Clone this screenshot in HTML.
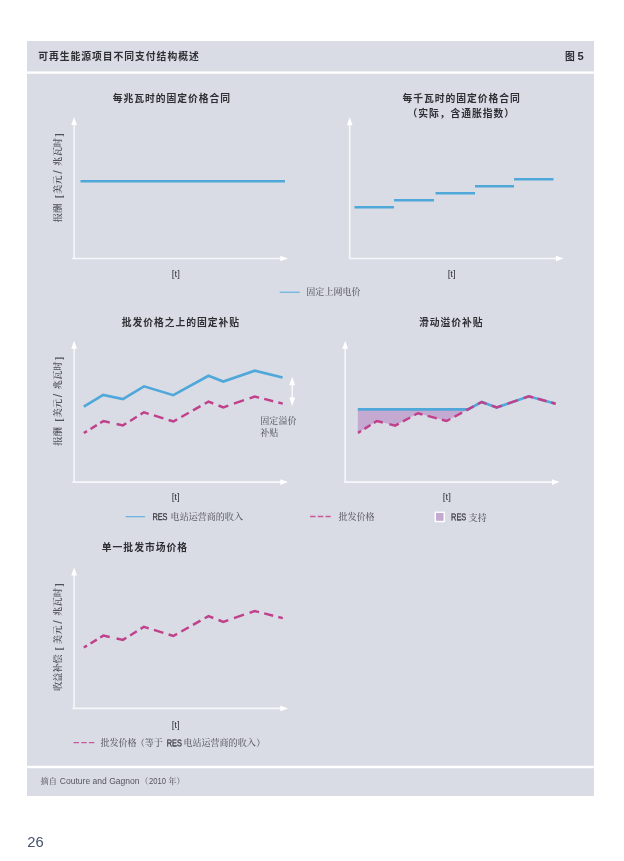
<!DOCTYPE html>
<html lang="zh-CN">
<head>
<meta charset="utf-8">
<title>可再生能源项目不同支付结构概述</title>
<style>
html,body{margin:0;padding:0;background:#fff;}
body{width:624px;height:861px;overflow:hidden;position:relative;}
svg{position:absolute;left:0;top:0;display:block;}
.sb{font-family:"Liberation Sans","Noto Sans CJK SC",sans-serif;font-weight:bold;font-size:9.8px;letter-spacing:0.96px;fill:#2e2e33;}
.sr{font-family:"Liberation Serif","Noto Serif CJK SC",serif;font-size:9.05px;font-weight:500;fill:#5c5c63;}
.yl{font-family:"Liberation Serif","Noto Serif CJK SC",serif;font-size:9.33px;font-weight:600;fill:#505058;}
.br{font-size:10.6px;}
.sl{font-family:"Liberation Sans",sans-serif;font-size:13px;font-weight:normal;}
.la{font-family:"Liberation Sans","Noto Sans CJK SC",sans-serif;font-size:9.6px;fill:#36363c;}
.res{font-family:"Liberation Sans",sans-serif;font-size:9.75px;fill:#3a3a40;stroke:#3a3a40;stroke-width:0.3px;}
.ax{stroke:#f6f7fa;stroke-width:1.6;fill:none;}
.ah{fill:#fff;stroke:none;}
.bl{stroke:#4fa7da;stroke-width:2.6;fill:none;stroke-linejoin:miter;}
.pk{stroke:#c0408c;stroke-width:2.45;fill:none;stroke-linejoin:miter;}
</style>
</head>
<body>
<svg width="624" height="861" viewBox="0 0 624 861">
<!-- panel -->
<rect x="27" y="41" width="567" height="755" fill="#d9dce4"/>
<rect x="27" y="71.4" width="567" height="2.4" fill="#fff"/>
<rect x="27" y="765.8" width="567" height="2.4" fill="#fff"/>

<!-- header -->
<text class="sb" x="38.3" y="59.65">可再生能源项目不同支付结构概述</text>
<text class="sb" x="564.9" y="59.65">图 <tspan x="577.6" y="59.9" style="font-size:11.2px;letter-spacing:0">5</tspan></text>

<!-- chart 1 -->
<g id="c1">
<text class="sb" x="171.9" y="102" text-anchor="middle">每兆瓦时的固定价格合同</text>
<path class="ax" d="M74.1 124V258.5M72.2 258.5H281"/><path class="ah" d="M74.1 117l2.9 8h-5.8zM288 258.5l-7.7 2.8v-5.6z"/>
<text class="yl" transform="translate(61.0 222.3) rotate(-90)"><tspan x="0" y="0">报酬</tspan> <tspan x="24.00" y="0.7" class="br">[</tspan> <tspan x="28.20" y="0">美元</tspan> <tspan x="48.60" y="1.2" class="sl">/</tspan> <tspan x="56.40" y="0">兆瓦时</tspan> <tspan x="85.60" y="0.7" class="br">]</tspan></text>
<path class="bl" d="M80.5 181.2H285"/>
<text class="la" x="175.8" y="276.6" text-anchor="middle">[t]</text>
</g>

<!-- chart 2 -->
<g id="c2">
<text class="sb" x="461.6" y="102" text-anchor="middle">每千瓦时的固定价格合同</text>
<text class="sb" x="461.2" y="117.3" text-anchor="middle">（实际，含通胀指数）</text>
<path class="ax" d="M349.7 124.3V258.5M348.9 258.5H556.6"/><path class="ah" d="M349.7 117.3l2.9 8h-5.8zM563.6 258.5l-7.7 2.8v-5.6z"/>
<path class="bl" d="M354.5 207.3H394M394 200.2H434M435.5 193.3H475M475 186.3H514M514 179.3H553.5"/>
<text class="la" x="451.7" y="276.6" text-anchor="middle">[t]</text>
</g>

<!-- legend row 1 -->
<path d="M279.7 292.2H299.7" stroke="#5aaede" stroke-width="1.1" fill="none"/>
<text class="sr" x="306.3" y="295.3">固定上网电价</text>

<!-- chart 3 -->
<g id="c3">
<text class="sb" x="180.8" y="326" text-anchor="middle">批发价格之上的固定补贴</text>
<path class="ax" d="M74.1 347.7V482.1M72.4 482.1H281"/><path class="ah" d="M74.1 340.7l2.9 8h-5.8zM288 482.1l-7.7 2.8v-5.6z"/>
<text class="yl" transform="translate(61.0 445.8) rotate(-90)"><tspan x="0" y="0">报酬</tspan> <tspan x="24.00" y="0.7" class="br">[</tspan> <tspan x="28.20" y="0">美元</tspan> <tspan x="48.60" y="1.2" class="sl">/</tspan> <tspan x="56.40" y="0">兆瓦时</tspan> <tspan x="85.60" y="0.7" class="br">]</tspan></text>
<path class="bl" d="M83.8 406.7L103.2 394.9L122.9 399.0L144.0 386.3L173.3 395.2L208.5 375.8L223.3 381.5L254.8 370.7L282.5 377.5"/>
<path class="pk" d="M83.8 433.0L87.0 431.1M90.5 429.0L96.8 425.1M100.2 423.0L103.4 421.1L109.7 422.5M116.6 424.0L122.9 425.4L126.3 423.3M130.1 421.0L136.8 416.7M140.6 414.4L144.0 412.3L148.7 413.8M153.9 415.4L163.4 418.4M168.6 420.0L173.3 421.5L177.1 419.4M181.3 417.0L188.8 412.7M193.0 410.4L200.5 406.1M204.7 403.7L208.5 401.6L213.3 403.5M218.5 405.5L223.3 407.4L228.3 405.6M233.9 403.7L244.0 400.2M249.6 398.3L254.6 396.5L259.1 397.6M264.2 398.9L273.2 401.2M278.3 402.5L282.8 403.6"/>
<path d="M292.2 384V399" stroke="#fff" stroke-width="1.2" fill="none"/>
<path class="ah" d="M292.2 376.7l2.9 8.6h-5.8zM292.2 406.1l2.9 -8.6h-5.8z"/>
<text class="sr" x="260.3" y="424.4">固定溢价</text>
<text class="sr" x="260.3" y="436">补贴</text>
<text class="la" x="175.7" y="500.4" text-anchor="middle">[t]</text>
</g>

<!-- chart 4 -->
<g id="c4">
<text class="sb" x="451.3" y="326" text-anchor="middle">滑动溢价补贴</text>
<path d="M357.8 409.4L468.0 409.4L446.5 421.0L417.9 413.3L395.2 425.6L376.9 421.0L357.8 433.2Z" fill="#c4a9d1"/>
<path class="ax" d="M345.2 347.7V482.1M343.9 482.1H552.6"/><path class="ah" d="M345.2 340.7l2.9 8h-5.8zM559.6 482.1l-7.7 2.8v-5.6z"/>
<path class="bl" d="M357.8 409.4L468.0 409.4L481.7 402.0L496.7 407.5L528.8 396.3L555.6 403.7"/>
<path class="pk" d="M358.0 432.9L361.0 431.0M364.4 428.9L370.5 425.0M373.9 422.9L376.9 421.0L382.8 422.5M389.3 424.1L395.2 425.6L398.8 423.6M402.9 421.4L410.2 417.5M414.3 415.3L417.9 413.3L422.5 414.5M427.6 415.9L436.8 418.4M441.9 419.8L446.5 421.0L450.3 419.0M454.5 416.7L462.0 412.6M466.2 410.4L473.7 406.3M477.9 404.0L481.7 402.0L486.5 403.8M491.9 405.7L496.7 407.5L501.9 405.7M507.6 403.7L517.9 400.1M523.6 398.1L528.8 396.3L533.1 397.5M537.9 398.8L546.5 401.2M551.3 402.5L555.6 403.7"/>
<text class="la" x="446.8" y="500.4" text-anchor="middle">[t]</text>
</g>

<!-- legend row 2 -->
<path d="M125.6 516.7H145" stroke="#5aaede" stroke-width="1.1" fill="none"/>
<text class="res" transform="translate(152.4 520.1) rotate(0.05) scale(0.755 1)">RES</text>
<text class="sr" x="170.6" y="520">电站运营商的收入</text>
<path d="M310.1 516.5H330.7" stroke="#c9589a" stroke-width="1.3" stroke-dasharray="5.5 2.2" fill="none"/>
<text class="sr" x="338.4" y="519.5">批发价格</text>
<rect x="435.3" y="512.3" width="9" height="9.2" fill="#c4a9d1" stroke="#fff" stroke-width="1.4"/>
<text class="res" transform="translate(451.1 520.2) rotate(0.05) scale(0.755 1)">RES</text>
<text class="sr" x="468.6" y="520.6">支持</text>

<!-- chart 5 -->
<g id="c5">
<text class="sb" x="144.9" y="551" text-anchor="middle">单一批发市场价格</text>
<path class="ax" d="M74.1 574.5V708.4M72.4 708.4H281"/><path class="ah" d="M74.1 567.5l2.9 8h-5.8zM288 708.4l-7.7 2.8v-5.6z"/>
<text class="yl" transform="translate(61.0 691.0) rotate(-90)"><tspan x="0" y="0" textLength="36.6" lengthAdjust="spacing">收益补偿</tspan> <tspan x="40.46" y="0.7" class="br">[</tspan> <tspan x="46.86" y="0">美元</tspan> <tspan x="67.26" y="1.2" class="sl">/</tspan> <tspan x="75.06" y="0">兆瓦时</tspan> <tspan x="104.26" y="0.7" class="br">]</tspan></text>
<path class="pk" d="M83.8 647.5L87.0 645.6M90.5 643.5L96.8 639.6M100.2 637.5L103.4 635.6L109.7 637.0M116.6 638.5L122.9 639.9L126.3 637.8M130.1 635.5L136.8 631.2M140.6 628.9L144.0 626.8L148.7 628.3M153.9 629.9L163.4 632.9M168.6 634.5L173.3 636.0L177.1 633.9M181.3 631.5L188.8 627.2M193.0 624.9L200.5 620.6M204.7 618.2L208.5 616.1L213.3 618.0M218.5 620.0L223.3 621.9L228.3 620.1M233.9 618.2L244.0 614.7M249.6 612.8L254.6 611.0L259.1 612.1M264.2 613.4L273.2 615.7M278.3 617.0L282.8 618.1"/>
<text class="la" x="175.7" y="727.6" text-anchor="middle">[t]</text>
</g>

<!-- legend row 3 -->
<path d="M73.5 742.7H94.3" stroke="#c9589a" stroke-width="1.3" stroke-dasharray="5.5 2.2" fill="none"/>
<text class="sr" x="100.4" y="746.2">批发价格</text>
<text class="sr" x="135.7" y="746.2">（等于</text>
<text class="res" transform="translate(166.8 746.3) rotate(0.05) scale(0.755 1)">RES</text>
<text class="sr" x="183.4" y="746.2">电站运营商的收入</text><text class="sr" x="256.2" y="746.2">）</text>

<!-- footer -->
<g style="font-size:8.2px" fill="#64646c">
<text class="sr" x="40.6" y="784" style="font-size:8.2px;fill:#64646c">摘自</text>
<text class="la" x="59.8" y="784" textLength="79.8" lengthAdjust="spacingAndGlyphs" style="font-size:8.8px;fill:#55555d">Couture and Gagnon</text>
<text class="sr" x="140.3" y="784" style="font-size:8.2px;fill:#64646c">（</text>
<text class="la" x="148.9" y="784" textLength="17" lengthAdjust="spacingAndGlyphs" style="font-size:8.8px;fill:#55555d">2010</text>
<text class="sr" x="168.3" y="784" style="font-size:8.2px;fill:#64646c">年）</text>
</g>

<!-- page number -->
<text x="27.2" y="846.9" textLength="16.4" lengthAdjust="spacingAndGlyphs" style="font-family:'Liberation Sans',sans-serif;font-size:13.8px;fill:#47536f;">26</text>
</svg>
</body>
</html>
